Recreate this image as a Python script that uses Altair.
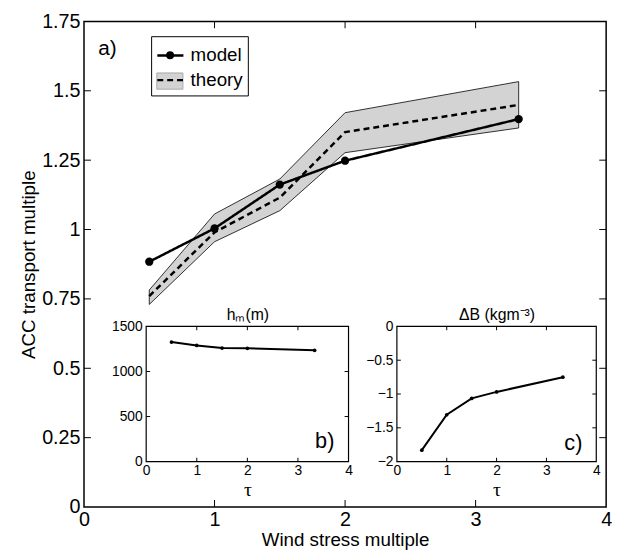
import altair as alt
import pandas as pd

# ---------------- data ----------------
tau = [0.5, 1.0, 1.5, 2.0, 3.33]
acc_model = [0.884, 1.004, 1.162, 1.248, 1.398]
acc_theory = [0.760, 0.990, 1.115, 1.351, 1.449]
theory_upper = [0.782, 1.056, 1.182, 1.421, 1.533]
theory_lower = [0.730, 0.956, 1.068, 1.277, 1.366]
hm_values = [1326, 1289, 1260, 1257, 1235]
dB_values = [-1.83, -1.307, -1.065, -0.969, -0.751]

series_names = ["model", "theory"]

main_x_ticks = [0, 1, 2, 3, 4]
main_y_ticks = [0, 0.25, 0.5, 0.75, 1.0, 1.25, 1.5, 1.75]
inset_x_ticks = [0, 1, 2, 3, 4]
hm_ticks = [0, 500, 1000, 1500]
dB_ticks = [-2, -1.5, -1, -0.5, 0]

panel_labels = ["a)", "b)", "c)"]
panel_label_x = [0.18, 3.53, 3.54]
panel_label_y = [1.65, 230, -1.72]

# ---------------- layout ----------------
FONT = "Liberation Sans"
W, H = 529, 492
B_XR = [63, 268]
C_XR = [317, 519]
INSET_YR = [446, 309]


def sc(domain, rng=None):
    if rng is None:
        return alt.Scale(domain=domain, nice=False, zero=False)
    return alt.Scale(domain=domain, range=rng, nice=False, zero=False)


mx, my = sc([main_x_ticks[0], main_x_ticks[-1]]), sc([main_y_ticks[0], main_y_ticks[-1]])
bx, by = sc([inset_x_ticks[0], inset_x_ticks[-1]], B_XR), sc([hm_ticks[0], hm_ticks[-1]], INSET_YR)
cx, cy = sc([inset_x_ticks[0], inset_x_ticks[-1]], C_XR), sc([dB_ticks[0], dB_ticks[-1]], INSET_YR)


def tick_layers(xvals, yvals, xs, ys, L):
    """Inward (MATLAB style) ticks on all four sides of a panel."""
    x0, x1 = xs.domain
    y0, y1 = ys.domain
    xin = [v for v in xvals if x0 < v < x1]
    yin = [v for v in yvals if y0 < v < y1]
    layers = []
    for yy, off in [(y0, -L / 2), (y1, L / 2)]:
        df = pd.DataFrame({"x": xin, "y": [yy] * len(xin)})
        layers.append(
            alt.Chart(df).mark_tick(orient="vertical", size=L, thickness=1, yOffset=off, color="black", opacity=1)
            .encode(x=alt.X("x:Q", scale=xs, axis=None), y=alt.Y("y:Q", scale=ys, axis=None))
        )
    for xx, off in [(x0, L / 2), (x1, -L / 2)]:
        df = pd.DataFrame({"x": [xx] * len(yin), "y": yin})
        layers.append(
            alt.Chart(df).mark_tick(orient="horizontal", size=L, thickness=1, xOffset=off, color="black", opacity=1)
            .encode(x=alt.X("x:Q", scale=xs, axis=None), y=alt.Y("y:Q", scale=ys, axis=None))
        )
    return layers


# ---------------- main panel ----------------
LEG_X, LEG_Y = 68, 15
SYM = 700
ROW = SYM ** 0.5

ax_main_x = alt.Axis(orient="bottom", values=main_x_ticks, title="Wind stress multiple", format="d",
                     labelFontSize=20, titleFontSize=19, domain=False, ticks=False, grid=False,
                     labelPadding=3, titlePadding=1, labelFlush=False, labelOverlap=False)
ax_main_y = alt.Axis(orient="left", values=main_y_ticks, title="ACC transport multiple", format=".2~f",
                     labelFontSize=20, titleFontSize=19, domain=False, ticks=False, grid=False,
                     labelPadding=4, titlePadding=3, labelOverlap=False)

band_df = pd.DataFrame({"tau": tau, "lower": theory_lower, "upper": theory_upper,
                        "series": [series_names[1]] * len(tau)})
line_df = pd.DataFrame({
    "tau": tau + tau,
    "value": acc_model + acc_theory,
    "series": [series_names[0]] * len(tau) + [series_names[1]] * len(tau),
})
pts_df = pd.DataFrame({"tau": tau, "value": acc_model, "series": [series_names[0]] * len(tau)})

legA = alt.Legend(orient="none", legendX=LEG_X, legendY=LEG_Y + ROW, title=None,
                  symbolType="M-1,-0.62H1V0.62H-1Z", symbolSize=SYM, symbolStrokeColor="#a8a8a8",
                  symbolStrokeWidth=1, labelExpr="''", labelFontSize=19, padding=5, rowPadding=0, zindex=1)
legB = alt.Legend(orient="none", legendX=LEG_X, legendY=LEG_Y, title=None,
                  symbolType="stroke", symbolSize=SYM, symbolStrokeWidth=2.5, symbolStrokeColor="black",
                  labelFontSize=19, labelFont=FONT, labelColor="black", labelOffset=6, rowPadding=0,
                  padding=5, strokeColor="black", zindex=3)
legC = alt.Legend(orient="none", legendX=LEG_X + (ROW - 8) / 2, legendY=LEG_Y + (ROW - 8) / 2, title=None,
                  symbolSize=64, symbolFillColor="black", labelExpr="''", labelFontSize=8, padding=5,
                  rowPadding=0, zindex=2)

band = alt.Chart(band_df).mark_area(stroke="black", strokeWidth=0.8, opacity=1).encode(
    x=alt.X("tau:Q", scale=mx, axis=ax_main_x),
    y=alt.Y("lower:Q", scale=my, axis=ax_main_y),
    y2="upper:Q",
    fill=alt.Fill("series:N", scale=alt.Scale(range=["#d3d3d3"]), legend=legA),
)
lines = alt.Chart(line_df).mark_line(strokeWidth=2.5, color="black").encode(
    x=alt.X("tau:Q", scale=mx, axis=None),
    y=alt.Y("value:Q", scale=my, axis=None),
    strokeDash=alt.StrokeDash("series:N", scale=alt.Scale(range=[[1, 0], [6, 4]]), legend=legB),
)
pts = alt.Chart(pts_df).mark_point(filled=True, size=70, color="black", opacity=1).encode(
    x=alt.X("tau:Q", scale=mx, axis=None),
    y=alt.Y("value:Q", scale=my, axis=None),
    shape=alt.Shape("series:N", scale=alt.Scale(range=["circle"]), legend=legC),
)


def text_layer(i, xs, ys, size):
    df = pd.DataFrame({"x": [panel_label_x[i]], "y": [panel_label_y[i]], "t": [panel_labels[i]]})
    return alt.Chart(df).mark_text(fontSize=size, font=FONT, color="black", align="center",
                                   baseline="middle").encode(
        x=alt.X("x:Q", scale=xs, axis=None), y=alt.Y("y:Q", scale=ys, axis=None), text="t:N")


# ---------------- insets ----------------
def inset(values, yticks, xs, ys, title, yfmt):
    off_x = -xs.range[0]
    off_bottom = ys.range[0] - H
    off_top = -ys.range[1]
    frame_df = pd.DataFrame({"x0": [inset_x_ticks[0]], "x1": [inset_x_ticks[-1]],
                             "y0": [yticks[0]], "y1": [yticks[-1]]})
    frame = alt.Chart(frame_df).mark_rect(fill="white", stroke="black", strokeWidth=1.2).encode(
        x=alt.X("x0:Q", scale=xs, axis=alt.Axis(orient="top", offset=off_top, labels=False, ticks=False,
                                                 domain=False, grid=False, title=title, titleFontSize=16,
                                                 titlePadding=4)),
        x2="x1:Q",
        y=alt.Y("y0:Q", scale=ys, axis=None),
        y2="y1:Q",
    )
    df = pd.DataFrame({"tau": tau, "v": values})
    ln = alt.Chart(df).mark_line(color="black", strokeWidth=2).encode(
        x=alt.X("tau:Q", scale=xs, axis=alt.Axis(orient="bottom", offset=off_bottom, values=inset_x_ticks,
                                                  format="d", labelFontSize=14, labelPadding=2,
                                                  labelFlush=False, labelOverlap=False, domain=False,
                                                  ticks=False, grid=False, title="τ",
                                                  titleFont="Liberation Serif", titleFontSize=20,
                                                  titlePadding=2)),
        y=alt.Y("v:Q", scale=ys, axis=alt.Axis(orient="left", offset=off_x, values=yticks, format=yfmt,
                                               labelFontSize=14, labelPadding=4, labelOverlap=False,
                                               domain=False, ticks=False, grid=False, title=None)),
    )
    pt = alt.Chart(df).mark_point(filled=True, size=14, color="black", opacity=1).encode(
        x=alt.X("tau:Q", scale=xs, axis=None), y=alt.Y("v:Q", scale=ys, axis=None))
    return [frame, ln, pt] + tick_layers(inset_x_ticks, yticks, xs, ys, 4)


layers = [band, lines, pts] + tick_layers(main_x_ticks, main_y_ticks, mx, my, 7)
layers += inset(hm_values, hm_ticks, bx, by, "hₘ(m)", "d")
layers += inset(dB_values, dB_ticks, cx, cy, "ΔB (kgm⁻³)", ".1~f")
layers += [text_layer(0, mx, my, 21), text_layer(1, bx, by, 22), text_layer(2, cx, cy, 22)]

chart = (
    alt.layer(*layers)
    .resolve_scale(x="independent", y="independent")
    .properties(width=W, height=H, padding={"left": 12, "top": 0, "right": 5, "bottom": 0})
    .configure(font=FONT)
    .configure_view(stroke="black", strokeWidth=1.5)
    .configure_axis(labelFont=FONT, titleFont=FONT, titleFontWeight="normal", labelColor="black",
                    titleColor="black")
)

chart.save("out.html", embed_options={"renderer": "svg", "actions": False})
